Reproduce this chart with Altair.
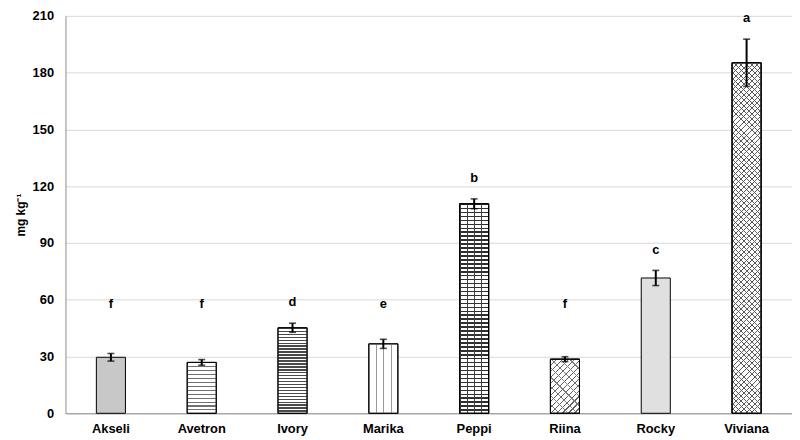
import altair as alt
import pandas as pd

cultivars = ["Akseli", "Avetron", "Ivory", "Marika", "Peppi", "Riina", "Rocky", "Viviana"]
means = [29.6, 26.9, 45.2, 36.7, 110.7, 28.6, 71.5, 185.2]
errors = [2.0, 1.5, 2.4, 2.4, 2.6, 1.3, 4.0, 12.5]
letters = ["f", "f", "d", "e", "b", "f", "c", "a"]

# styling
base_fill = ["#c8c8c8", "#ffffff", "#ffffff", "#ffffff", "#ffffff", "#ffffff", "#e0e0e0", "#ffffff"]
FONT = "Liberation Sans"
W, H = 733, 401
YMAX = 210
STEP = W / len(cultivars)
BAR_W = STEP * 0.32

df = pd.DataFrame({"cultivar": cultivars, "mean": means, "err": errors, "letter": letters})
df["lo"] = df["mean"] - df["err"]
df["hi"] = df["mean"] + df["err"]
df["label_y"] = [max(h + 11, 58) for h in df["hi"]]

TRANSP = "rgba(255,255,255,0)"


def stripe_stops(n, frac, dark):
    stops = []
    for i in range(n):
        a = i / n
        m = (i + frac) / n
        b = (i + 1) / n
        stops += [alt.GradientStop(color=dark, offset=a), alt.GradientStop(color=dark, offset=m),
                  alt.GradientStop(color=TRANSP, offset=m), alt.GradientStop(color=TRANSP, offset=b)]
    return stops


def grad(kind, value, period, frac, dark):
    h = value * H / YMAX
    w = BAR_W
    if kind == "h":
        n = max(1, round(h / period))
        return alt.Gradient(gradient="linear", stops=stripe_stops(n, frac, dark), x1=0, y1=0, x2=0, y2=1)
    if kind == "v":
        n = max(1, round(w / period))
        return alt.Gradient(gradient="linear", stops=stripe_stops(n, frac, dark), x1=0, y1=0, x2=1, y2=0)
    r = w / h
    b = (1 + r) / (1 + r * r)
    a = r * b
    n = max(1, round((w + h) / period))
    if kind == "d1":
        return alt.Gradient(gradient="linear", stops=stripe_stops(n, frac, dark), x1=0, y1=0, x2=a, y2=b)
    return alt.Gradient(gradient="linear", stops=stripe_stops(n, frac, dark), x1=1, y1=0, x2=1 - a, y2=b)


xenc = alt.X("cultivar:N", sort=cultivars,
             scale=alt.Scale(paddingInner=0.68, paddingOuter=0.34),
             axis=alt.Axis(title=None, labelAngle=0, ticks=False, labelPadding=9,
                           labelFontSize=13, labelFontWeight="bold", labelColor="#000000",
                           labelFont=FONT, domainColor="#8c8c8c", domainWidth=1))
yscale = alt.Scale(domain=[0, YMAX], nice=False)
yenc = alt.Y("mean:Q", scale=yscale,
             axis=alt.Axis(title="mg kg\u207b\u00b9", values=list(range(0, 211, 30)), ticks=False,
                           labelPadding=12, labelFontSize=13, labelFontWeight="bold",
                           labelColor="#000000", labelFont=FONT, domainColor="#8c8c8c",
                           gridColor="#d9d9d9", titleFont=FONT, titleFontSize=12,
                           titleFontWeight="bold", titleColor="#000000", titlePadding=5))

base = alt.Chart(df)

bars = base.mark_bar(stroke="#000000", strokeWidth=1).encode(
    x=xenc, y=yenc,
    fill=alt.Fill("cultivar:N", scale=alt.Scale(domain=cultivars, range=base_fill), legend=None),
)

patterns = [
    ("Avetron", "h", 4.0, 0.28, "#707070"),
    ("Ivory", "h", 3.0, 0.5, "#4a4a4a"),
    ("Marika", "v", 7.0, 0.14, "#9a9a9a"),
    ("Peppi", "h", 4.0, 0.38, "#303030"),
    ("Peppi", "v", 7.3, 0.14, "#404040"),
    ("Riina", "d1", 6.0, 0.2, "#606060"),
    ("Riina", "d2", 9.0, 0.12, "#808080"),
    ("Viviana", "d1", 5.5, 0.18, "#5a5a5a"),
    ("Viviana", "d2", 5.5, 0.18, "#5a5a5a"),
]

layers = [bars]
for name, kind, period, frac, dark in patterns:
    v = means[cultivars.index(name)]
    layers.append(
        base.transform_filter(alt.datum.cultivar == name)
        .mark_bar(fill=grad(kind, v, period, frac, dark), stroke="#000000", strokeWidth=1)
        .encode(x=alt.X("cultivar:N", sort=cultivars), y=alt.Y("mean:Q"))
    )

rules = base.mark_rule(color="#000000", strokeWidth=2).encode(
    x=alt.X("cultivar:N", sort=cultivars), y=alt.Y("lo:Q"), y2="hi:Q")
cap_lo = base.mark_tick(color="#000000", thickness=1.6, size=7, orient="horizontal").encode(
    x=alt.X("cultivar:N", sort=cultivars), y=alt.Y("lo:Q"))
cap_hi = base.mark_tick(color="#000000", thickness=1.6, size=7, orient="horizontal").encode(
    x=alt.X("cultivar:N", sort=cultivars), y=alt.Y("hi:Q"))
labels = base.mark_text(fontSize=13, fontWeight="bold", font=FONT, color="#000000",
                        baseline="middle").encode(
    x=alt.X("cultivar:N", sort=cultivars), y=alt.Y("label_y:Q"), text="letter:N")

layers += [rules, cap_lo, cap_hi, labels]

chart = alt.layer(*layers).properties(
    width=W, height=H,
    autosize=alt.AutoSizeParams(type="none"),
    padding={"left": 58, "top": 6, "right": 0, "bottom": 25},
).configure_view(stroke=None).configure_axis(grid=True).configure_axisX(grid=False)

chart.save("out.html", embed_options={"renderer": "svg", "actions": False})
